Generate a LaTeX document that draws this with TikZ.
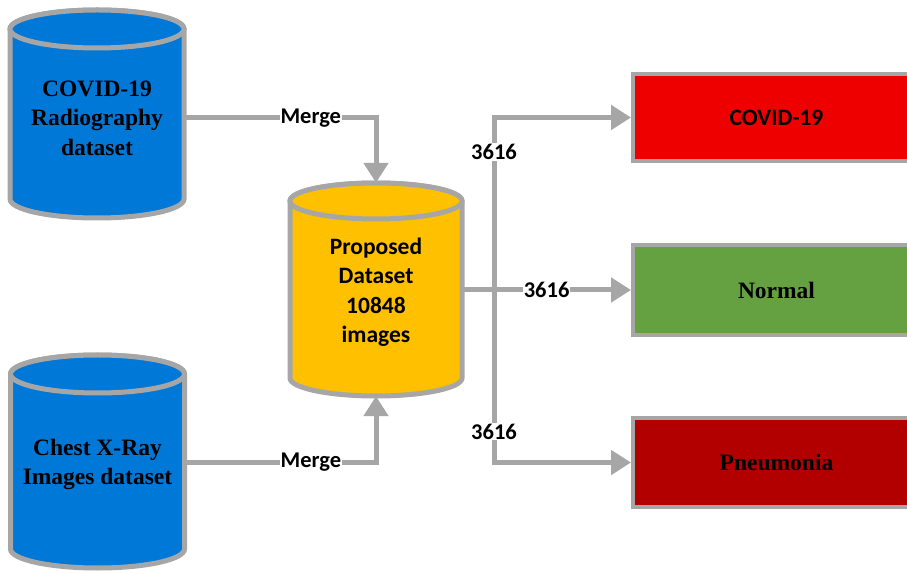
\documentclass[tikz,border=0pt]{standalone}
\usepackage{fontspec}
\setmainfont{Liberation Serif}
\newfontfamily\calib{Carlito}
\usetikzlibrary{arrows.meta,backgrounds}
\definecolor{cgray}{RGB}{166,166,166}
\definecolor{cylblue}{RGB}{0,120,215}
\definecolor{cylyellow}{RGB}{255,192,0}
\definecolor{boxred}{RGB}{238,0,0}
\definecolor{boxgreen}{RGB}{102,161,65}
\definecolor{boxdark}{RGB}{178,0,0}
% cx, top, bottom, rx, ry, colour
\newcommand{\mycyl}[6]{%
  \filldraw[fill=#6, draw=cgray, line width=5pt]
    (#1-#4,#2-#5) -- (#1-#4,#3+#5)
    arc[start angle=180, end angle=360, x radius=#4pt, y radius=#5pt]
    -- (#1+#4,#2-#5)
    arc[start angle=0, end angle=180, x radius=#4pt, y radius=#5pt] -- cycle;
  \filldraw[fill=#6, draw=cgray, line width=5pt]
    (#1,#2-#5) ellipse[x radius=#4pt, y radius=#5pt];}
\tikzset{
  cyltext/.style={inner sep=0pt, align=center, font=\bfseries\fontsize{23.5}{29.5}\selectfont},
  cylsans/.style={inner sep=0pt, align=center, font=\calib\bfseries\fontsize{23.5}{29.5}\selectfont},
  catbox/.style={draw=cgray, line width=4pt, minimum width=287pt, inner sep=0pt},
  conn/.style={draw=cgray, line width=5pt, -{Triangle[length=20pt,width=24pt]}},
  lbl/.style={fill=white, inner sep=1pt, font=\calib\bfseries\fontsize{22.5}{27}\selectfont}
}
\begin{document}
\begin{tikzpicture}[x=1pt,y=1pt]
\clip (0,0) rectangle (907,573);
\fill[white] (0,0) rectangle (907,573);
% cylinders
\mycyl{97}{563}{355}{87}{19}{cylblue}
\mycyl{97.5}{218}{5}{87}{19}{cylblue}
\mycyl{376}{390}{177}{86}{18}{cylyellow}
\node[cyltext, minimum width=174pt, minimum height=208pt] (c1) at (97,455)
  {COVID-19\\Radiography\\dataset};
\node[cyltext, minimum width=174pt, minimum height=213pt] (c2) at (97.5,108.5)
  {Chest X-Ray\\Images dataset};
\node[cylsans, minimum width=172pt, minimum height=213pt] (pd) at (376,281)
  {Proposed\\Dataset\\10848\\images};
% category boxes
\node[catbox, fill=boxred, minimum height=87pt] (covid) at (776.5,455.5)
  {\calib\bfseries\fontsize{23.5}{28}\selectfont COVID-19};
\node[catbox, fill=boxgreen, minimum height=90pt] (normal) at (776.5,283)
  {\bfseries\fontsize{23.5}{28}\selectfont Normal};
\node[catbox, fill=boxdark, minimum height=89pt] (pneu) at (776.5,110.5)
  {\bfseries\fontsize{23.5}{28}\selectfont Pneumonia};
% merge connectors
\draw[conn] (c1.east) -| node[pos=0.33, lbl] {Merge} ([yshift=2.5pt]pd.north);
\draw[conn] ([yshift=2.5pt]c2.east) -| node[pos=0.33, lbl] {Merge} ([yshift=2.5pt]pd.south);
% split connectors
\coordinate (bus) at (494,283);
\draw[conn] ([yshift=2pt]pd.east) -- node[pos=0.5, lbl] {3616} (normal.west);
\draw[conn] (bus) |- node[pos=0.4, lbl] {3616} (covid.west);
\draw[conn] (bus) |- node[pos=0.41, lbl] {3616} (pneu.west);
\end{tikzpicture}
\end{document}
